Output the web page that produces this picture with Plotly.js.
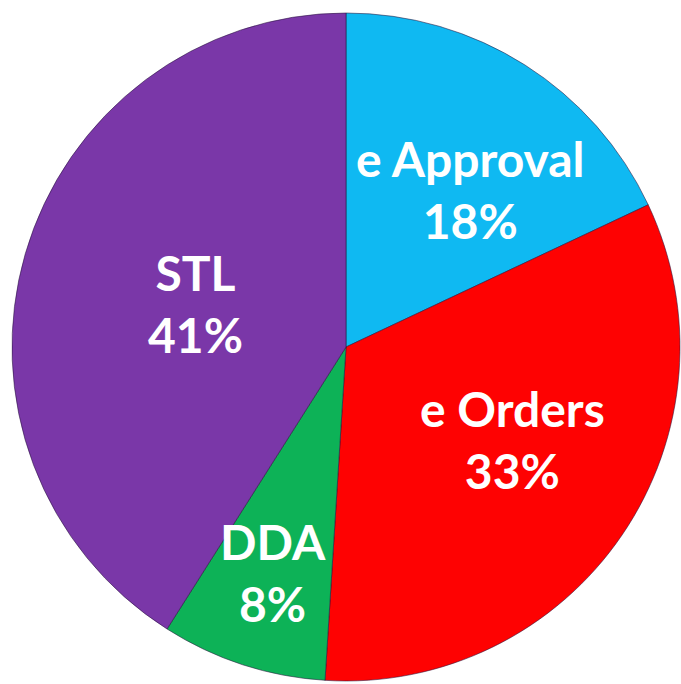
<!DOCTYPE html>
<html>
<head>
<meta charset="utf-8">
<script src="https://cdn.plot.ly/plotly-3.0.1.min.js"></script>
<style>html,body{margin:0;padding:0;background:#fff;}#chart{width:681px;height:684px;}</style>
</head>
<body>
<div id="chart"></div>
<script>
// Data
var categories = ["e Approval", "e Orders", "DDA", "STL"];
var values = [18, 33, 8, 41];
var percentLabels = ["18%", "33%", "8%", "41%"];

// Styles
var colors = ["#0FB9F2", "#FE0202", "#0DB257", "#7A37A8"];
var labelRadius = [0.60, 0.57, 0.71, 0.47];
var labelAngleOffset = [6, -5, 0, 0]; // degrees

var W = 681, H = 684;
var cx = 346, cy = 347, R = 334;

var total = values.reduce(function(a, b){ return a + b; }, 0);
var annotations = [];
var cum = 0;
for (var i = 0; i < values.length; i++) {
  var mid = (cum + values[i] / 2) / total * 2 * Math.PI + labelAngleOffset[i] * Math.PI / 180;
  cum += values[i];
  var px = cx + R * labelRadius[i] * Math.sin(mid);
  var py = cy - R * labelRadius[i] * Math.cos(mid);
  annotations.push({
    xref: "paper", yref: "paper",
    x: px / W, y: 1 - py / H,
    xanchor: "center", yanchor: "middle",
    showarrow: false,
    text: categories[i] + "<br>" + percentLabels[i],
    font: {family: "Lato, 'Open Sans', sans-serif", size: 48, color: "#ffffff", weight: "bold"}
  });
}

var trace = {
  type: "pie",
  labels: categories,
  values: values,
  sort: false,
  direction: "clockwise",
  rotation: 0,
  textinfo: "none",
  hoverinfo: "label+percent",
  marker: {colors: colors, line: {color: "rgba(40,20,60,0.55)", width: 1}},
  domain: {x: [(cx - R) / W, (cx + R) / W], y: [(H - cy - R) / H, (H - cy + R) / H]},
  showlegend: false
};

var layout = {
  width: W, height: H,
  margin: {l: 0, r: 0, t: 0, b: 0},
  paper_bgcolor: "#ffffff",
  showlegend: false,
  annotations: annotations
};

Plotly.newPlot("chart", [trace], layout, {displayModeBar: false, staticPlot: true});
</script>
</body>
</html>
